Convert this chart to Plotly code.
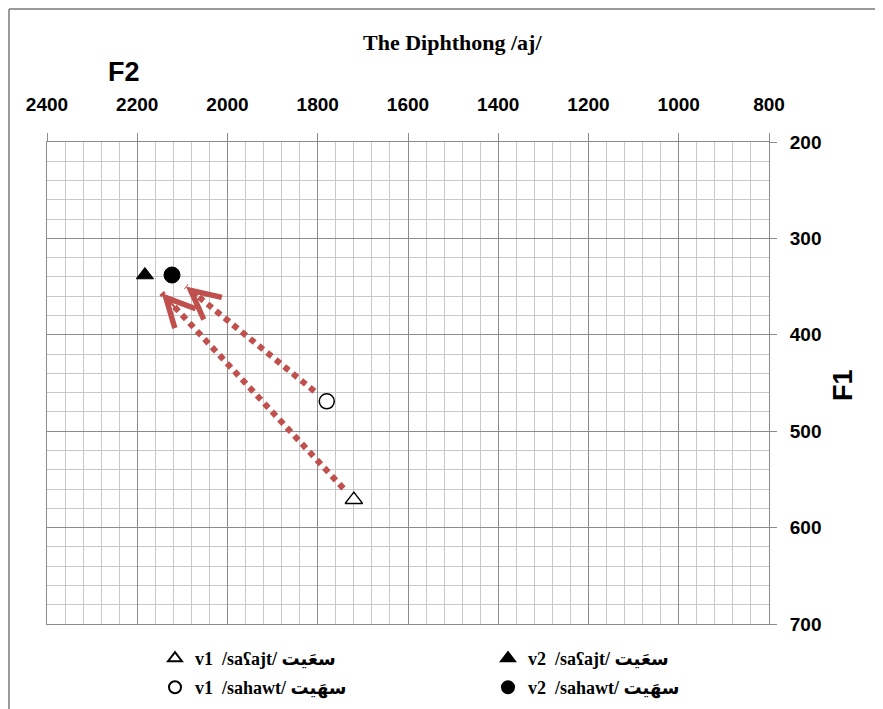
import plotly.graph_objects as go

# ---------------- data ----------------
title_text = "The Diphthong /aj/"
x_title = "F2"
y_title = "F1"
vowel_labels = ["v1", "v2"]
word_saajt = "/saʕajt/ سعَيت"
word_sahawt = "/sahawt/ سهَيت"

f2_saajt = [1720, 2183]   # v1, v2
f1_saajt = [571, 338]
f2_sahawt = [1780, 2123]
f1_sahawt = [469, 338]

x_range = [2400, 800]
y_range = [700, 200]

# ---------------- style ----------------
OFF = 8                      # default page body margin
W, H = 883 - OFF, 709 - OFF  # figure size
ML, MT = 47 - OFF, 142 - OFF
MR, MB = 114, 85
PW, PH = W - ML - MR, H - MT - MB
ARROW = "#C0504D"
MAJOR = "#8c8c8c"
MINOR = "#c8c8c8"
SANS = "Liberation Sans Narrow, Liberation Sans, Arial, sans-serif"
SERIF = "Liberation Serif, Times New Roman, DejaVu Sans, serif"


def px_x(p):  # page pixel -> paper
    return (p - OFF - ML) / PW


def px_y(p):
    return (H - MB - (p - OFF)) / PH


NB = "\u00a0"

fig = go.Figure()


# arrows (dotted body) from v1 toward v2
def arrow(f2, f1, t0, t1):
    x0 = f2[0] + (f2[1] - f2[0]) * t0
    y0 = f1[0] + (f1[1] - f1[0]) * t0
    x1 = f2[0] + (f2[1] - f2[0]) * t1
    y1 = f1[0] + (f1[1] - f1[0]) * t1
    fig.add_trace(go.Scatter(
        x=[x0, x1], y=[y0, y1], mode="lines",
        line=dict(color=ARROW, width=6, dash="6px,5px"),
        showlegend=False, hoverinfo="skip"))
    k = 0.1
    fig.add_annotation(
        x=x1, y=y1, ax=x1 + (x0 - x1) * k, ay=y1 + (y0 - y1) * k,
        xref="x", yref="y", axref="x", ayref="y",
        showarrow=True, arrowhead=5, arrowsize=2.8, arrowwidth=2,
        arrowcolor=ARROW, text="")


arrow(f2_saajt, f1_saajt, 0.05, 0.92)
arrow(f2_sahawt, f1_sahawt, 0.08, 0.91)

legend_font = dict(family=SERIF, size=18, color="black", weight="bold")

# saajt v1 (open triangle)
fig.add_trace(go.Scatter(
    x=[f2_saajt[0]], y=[f1_saajt[0]], mode="markers",
    name=f"{vowel_labels[0]}{NB}{NB}{word_saajt}", legend="legend",
    marker=dict(symbol="triangle-up", size=15, color="white",
                line=dict(color="black", width=1.5))))
# saajt v2 (filled triangle)
fig.add_trace(go.Scatter(
    x=[f2_saajt[1]], y=[f1_saajt[1]], mode="markers",
    name=f"{vowel_labels[1]}{NB}{NB}{word_saajt}", legend="legend",
    marker=dict(symbol="triangle-up", size=15, color="black",
                line=dict(color="black", width=1))))
# sahawt v1 (open circle)
fig.add_trace(go.Scatter(
    x=[f2_sahawt[0]], y=[f1_sahawt[0]], mode="markers",
    name=f"{vowel_labels[0]}{NB}{NB}{word_sahawt}", legend="legend2",
    marker=dict(symbol="circle", size=15, color="white",
                line=dict(color="black", width=1.5))))
# sahawt v2 (filled circle)
fig.add_trace(go.Scatter(
    x=[f2_sahawt[1]], y=[f1_sahawt[1]], mode="markers",
    name=f"{vowel_labels[1]}{NB}{NB}{word_sahawt}", legend="legend2",
    marker=dict(symbol="circle", size=16, color="black",
                line=dict(color="black", width=1))))

tickfont = dict(family=SANS, size=19, color="black", weight="bold")

fig.update_layout(
    width=W, height=H, autosize=False,
    margin=dict(l=ML, r=MR, t=MT, b=MB, pad=0, autoexpand=False),
    paper_bgcolor="white", plot_bgcolor="white",
    xaxis=dict(range=x_range, side="top", dtick=200, tick0=0,
               showgrid=True, gridcolor=MAJOR, gridwidth=1,
               minor=dict(dtick=40, tick0=0, showgrid=True, gridcolor=MINOR, gridwidth=1),
               ticks="outside", ticklen=8, tickcolor=MAJOR, tickwidth=1,
               showline=True, linecolor=MAJOR, linewidth=1, mirror=True,
               zeroline=False, tickfont=tickfont, ticklabelstandoff=14,
               automargin=False),
    yaxis=dict(range=y_range, side="right", dtick=100, tick0=0,
               showgrid=True, gridcolor=MAJOR, gridwidth=1,
               minor=dict(dtick=20, tick0=0, showgrid=True, gridcolor=MINOR, gridwidth=1),
               ticks="outside", ticklen=7, tickcolor=MAJOR, tickwidth=1,
               showline=True, linecolor=MAJOR, linewidth=1, mirror=True,
               zeroline=False, tickfont=tickfont, ticklabelstandoff=9,
               automargin=False),
    legend=dict(orientation="h", x=px_x(155), y=px_y(640), xanchor="left", yanchor="top",
                entrywidth=288, entrywidthmode="pixels", itemsizing="constant",
                font=legend_font, bgcolor="rgba(0,0,0,0)", traceorder="normal"),
    legend2=dict(orientation="h", x=px_x(155), y=px_y(669), xanchor="left", yanchor="top",
                 entrywidth=288, entrywidthmode="pixels", itemsizing="constant",
                 font=legend_font, bgcolor="rgba(0,0,0,0)", traceorder="normal"),
    showlegend=True,
)

fig.add_annotation(text=title_text, xref="paper", yref="paper",
                   x=px_x(453), y=px_y(42), showarrow=False,
                   xanchor="center", yanchor="middle",
                   font=dict(family=SERIF, size=22, color="black", weight="bold"))
fig.add_annotation(text=x_title, xref="paper", yref="paper",
                   x=px_x(124), y=px_y(72), showarrow=False,
                   xanchor="center", yanchor="middle",
                   font=dict(family=SANS, size=27, color="black", weight="bold"))
fig.add_annotation(text=y_title, xref="paper", yref="paper",
                   x=px_x(843), y=px_y(385), showarrow=False, textangle=-90,
                   xanchor="center", yanchor="middle",
                   font=dict(family=SANS, size=27, color="black", weight="bold"))

# outer chart-area border (top and left), as close to the page edge as visible
BX, BY = OFF + 1, OFF + 1
fig.add_shape(type="line", xref="paper", yref="paper",
              x0=px_x(BX), x1=px_x(BX), y0=px_y(709 + 10), y1=px_y(BY),
              line=dict(color="#9a9a9a", width=2))
fig.add_shape(type="line", xref="paper", yref="paper",
              x0=px_x(BX), x1=px_x(883 + 10), y0=px_y(BY), y1=px_y(BY),
              line=dict(color="#9a9a9a", width=2))

fig.write_html("out.html")
